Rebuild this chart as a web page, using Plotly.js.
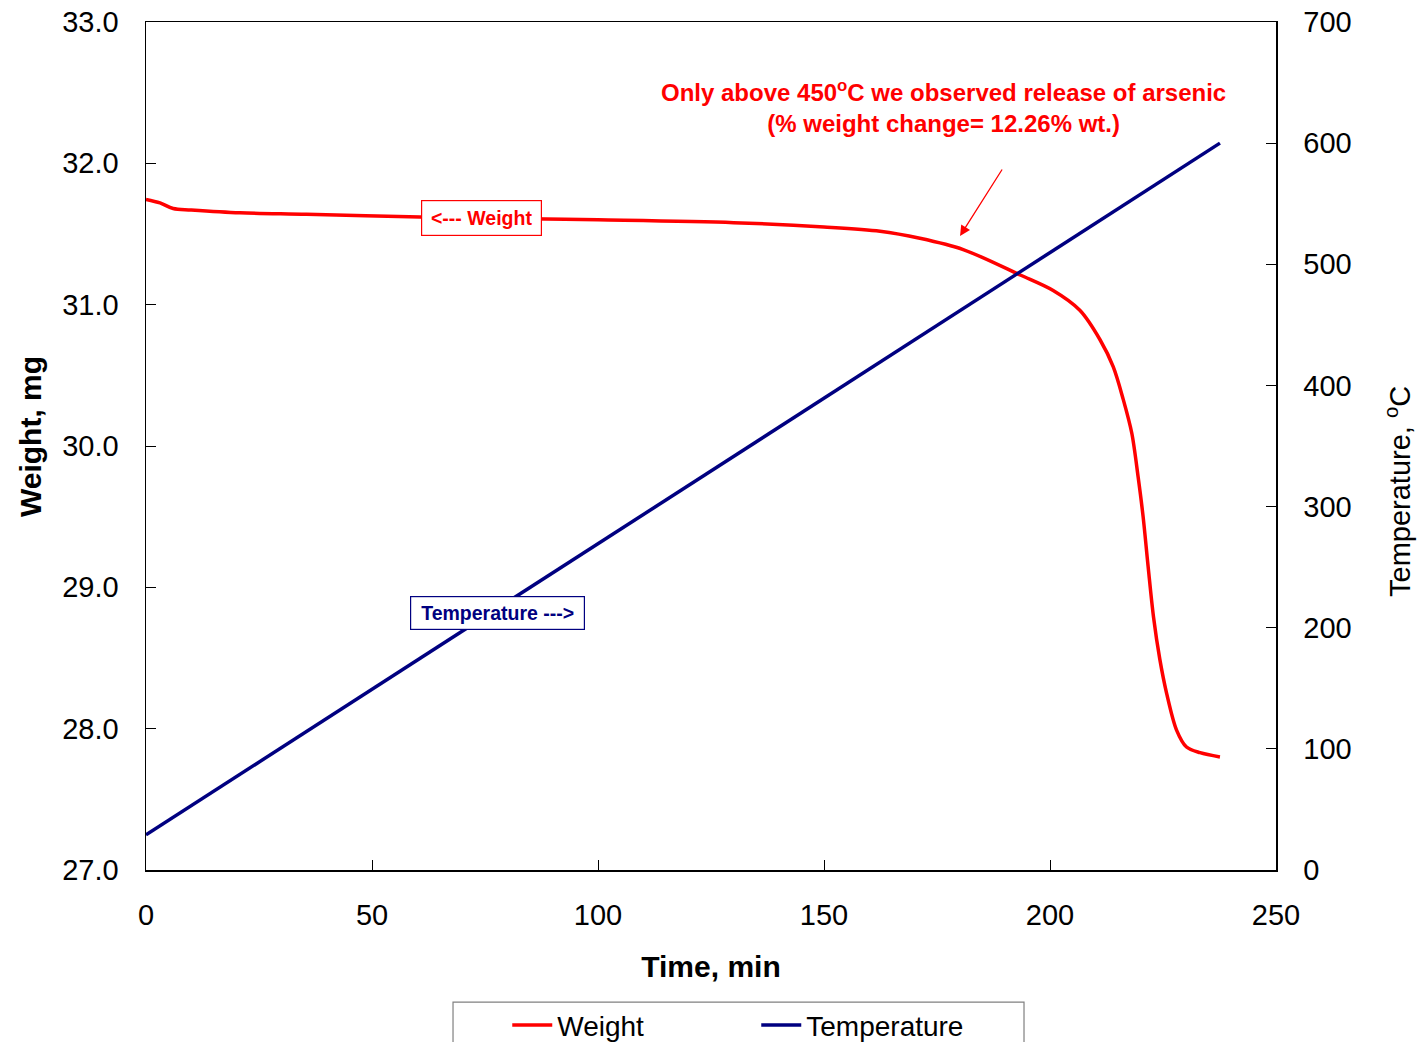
<!DOCTYPE html>
<html>
<head>
<meta charset="utf-8">
<script src="https://cdn.plot.ly/plotly-3.0.1.min.js"></script>
<style>html,body{margin:0;padding:0;background:#fff;}#chart{width:1418px;height:1042px;}</style>
</head>
<body>
<div id="chart"></div>
<script>
// Weight curve (time in min, weight in mg)
const timeWeight = [0, 3.1, 6.0, 10, 20.8, 35.5, 60.6, 80, 100, 130, 150, 162.4, 171.2, 180.8, 193.4, 200.7, 206.6, 211.1, 214.0, 216.2, 218.1, 219.5, 220.6, 221.7, 222.9, 224.3, 225.8, 228.0, 230.2, 233.2, 237.6];
const weight = [31.745, 31.72, 31.68, 31.67, 31.65, 31.64, 31.62, 31.61, 31.60, 31.58, 31.55, 31.52, 31.47, 31.39, 31.21, 31.10, 30.96, 30.75, 30.56, 30.33, 30.09, 29.78, 29.50, 29.15, 28.79, 28.49, 28.25, 27.99, 27.87, 27.83, 27.80];

// Temperature ramp (time in min, temperature in °C)
const timeTemp = [0, 50, 100, 150, 200, 237.6];
const temperature = [29, 149, 269, 389, 509, 600];

// Axis tick values
const xTicks = [0, 50, 100, 150, 200, 250];
const yWeightTicks = [27, 28, 29, 30, 31, 32, 33];
const yTempTicks = [0, 100, 200, 300, 400, 500, 600, 700];

const FONT = 'Arial, "Liberation Sans", sans-serif';

const traces = [
  {
    x: timeWeight, y: weight, name: 'Weight', type: 'scatter', mode: 'lines',
    line: {color: '#FF0000', width: 3.5, shape: 'spline', smoothing: 0.9},
    yaxis: 'y'
  },
  {
    x: timeTemp, y: temperature, name: 'Temperature', type: 'scatter', mode: 'lines',
    line: {color: '#000080', width: 3.5},
    yaxis: 'y2'
  }
];

const layout = {
  width: 1418, height: 1042,
  paper_bgcolor: '#ffffff', plot_bgcolor: '#ffffff',
  margin: {l: 146, r: 142, t: 22, b: 172, autoexpand: false},
  font: {family: FONT, color: '#000'},
  showlegend: true,
  legend: {
    orientation: 'h', x: 0.3197, xanchor: 'left', y: -0.183, yanchor: 'middle',
    font: {family: FONT, size: 28, color: '#000'},
    bgcolor: 'rgba(0,0,0,0)', borderwidth: 0,
    entrywidth: 194, itemwidth: 40
  },
  xaxis: {
    range: [0, 250], tickvals: xTicks, ticktext: xTicks.map(String),
    ticks: 'inside', ticklen: 10, tickcolor: '#000', tickwidth: 1,
    showline: true, linecolor: '#000', linewidth: 1.5, mirror: true,
    showgrid: false, zeroline: false,
    tickfont: {family: FONT, size: 29},
    ticklabelstandoff: 19,
    title: {text: '<b>Time, min</b>', font: {family: FONT, size: 30}, standoff: 25}
  },
  yaxis: {
    range: [27, 33], tickvals: yWeightTicks, ticktext: yWeightTicks.map(v => v.toFixed(1)),
    ticks: 'inside', ticklen: 10, tickcolor: '#000', tickwidth: 1,
    showline: true, linecolor: '#000', linewidth: 1.5,
    showgrid: false, zeroline: false,
    tickfont: {family: FONT, size: 29},
    ticklabelstandoff: 20
  },
  yaxis2: {
    range: [0, 700], tickvals: yTempTicks, ticktext: yTempTicks.map(String),
    overlaying: 'y', side: 'right',
    ticks: 'inside', ticklen: 10, tickcolor: '#000', tickwidth: 1,
    showline: true, linecolor: '#000', linewidth: 1.5,
    showgrid: false, zeroline: false,
    tickfont: {family: FONT, size: 29},
    ticklabelstandoff: 20
  },
  shapes: [
    {type: 'rect', xref: 'paper', yref: 'paper', x0: 0.2717, x1: 0.777, y0: -0.1557, y1: -0.215,
     line: {color: '#808080', width: 1.2}, fillcolor: 'rgba(0,0,0,0)', layer: 'above'}
  ],
  annotations: [
    // Left axis title
    {xref: 'paper', yref: 'paper', x: (30 - 146) / 1130, y: (870 - 437) / 848,
     xanchor: 'center', yanchor: 'middle', showarrow: false, textangle: -90,
     text: '<b>Weight, mg</b>', font: {family: FONT, size: 30, color: '#000'}},
    // Right axis title
    {xref: 'paper', yref: 'paper', x: (1398 - 146) / 1130, y: (870 - 492) / 848,
     xanchor: 'center', yanchor: 'middle', showarrow: false, textangle: -90,
     text: 'Temperature, <sup>o</sup>C', font: {family: FONT, size: 29, color: '#000'}},
    {xref: 'paper', yref: 'paper', x: (943 - 146) / 1130, y: (870 - 106) / 848,
     xanchor: 'center', yanchor: 'middle', showarrow: false, align: 'center',
     text: '<b>Only above 450<sup>o</sup>C we observed release of arsenic<br>(% weight change= 12.26% wt.)</b>',
     font: {family: FONT, size: 24, color: '#FF0000'}},
    {xref: 'x', yref: 'y', x: 180.1, y: 31.486, ax: 43, ay: -68, axref: 'pixel', ayref: 'pixel',
     text: '', showarrow: true, arrowhead: 2, arrowsize: 1.6, arrowwidth: 1.3, arrowcolor: '#FF0000'},
    {xref: 'x', yref: 'y', x: 74.3, y: 31.615, showarrow: false,
     text: '<b>&lt;--- Weight</b>', font: {family: FONT, size: 19.5, color: '#FF0000'},
     bgcolor: '#ffffff', bordercolor: '#FF0000', borderwidth: 1.2, width: 117, height: 32},
    {xref: 'x', yref: 'y', x: 77.8, y: 28.82, showarrow: false,
     text: '<b>Temperature ---&gt;</b>', font: {family: FONT, size: 19.5, color: '#000080'},
     bgcolor: '#ffffff', bordercolor: '#000080', borderwidth: 1.2, width: 171, height: 30}
  ]
};

Plotly.newPlot('chart', traces, layout, {displayModeBar: false, staticPlot: true});
</script>
</body>
</html>
